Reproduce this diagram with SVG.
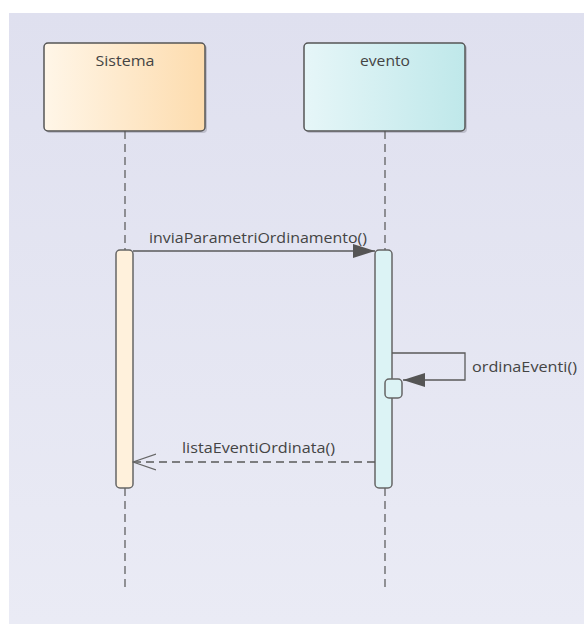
<svg xmlns="http://www.w3.org/2000/svg" width="584" height="624" viewBox="0 0 584 624">
<defs>
<linearGradient id="bg" x1="0" y1="0" x2="0" y2="1"><stop offset="0" stop-color="#dfe0ef"/><stop offset="1" stop-color="#eaebf5"/></linearGradient>
<linearGradient id="gS" x1="0" y1="0" x2="1" y2="0"><stop offset="0" stop-color="#fff6e8"/><stop offset="1" stop-color="#fddcae"/></linearGradient>
<linearGradient id="gE" x1="0" y1="0" x2="1" y2="0"><stop offset="0" stop-color="#e6f6f8"/><stop offset="1" stop-color="#bfe8ea"/></linearGradient>
<marker id="fill" markerWidth="22" markerHeight="14" refX="22" refY="7" orient="auto" markerUnits="userSpaceOnUse"><path d="M0,0 L22,7 L0,14 Z" fill="#555"/></marker>
<marker id="open" markerWidth="24" markerHeight="18" refX="23" refY="9" orient="auto" markerUnits="userSpaceOnUse"><path d="M0,1 L23,9 L0,17" fill="none" stroke="#666" stroke-width="1.2"/></marker>
</defs>
<style>
.box{stroke:#555;stroke-width:1.5}
.shadow{fill:#9a9aa8;opacity:0.5}
.title{font-family:"Open Sans","Noto Sans",sans-serif;font-size:15px;fill:#444;text-anchor:middle}
.lbl{font-family:"Open Sans","Noto Sans",sans-serif;font-size:15px;fill:#444}
.life{stroke:#555;stroke-width:1.2;stroke-dasharray:8,5;fill:none}
.act{stroke:#666;stroke-width:1.5}
.msg{stroke:#5a5a5a;stroke-width:1.3;fill:none}
</style>
<rect x="0" y="0" width="584" height="624" fill="#fff"/>
<rect x="9" y="13" width="575" height="611" fill="url(#bg)"/>
<g id="Sistema">
<rect class="shadow" x="46" y="45" width="161" height="88" rx="4"/>
<rect class="box" x="44" y="43" width="161" height="88" rx="4" fill="url(#gS)"/>
<text class="title" x="125" y="66" textLength="59" lengthAdjust="spacingAndGlyphs">Sistema</text>
<line class="life" x1="125" y1="131" x2="125" y2="250"/>
<line class="life" x1="125" y1="488" x2="125" y2="592"/>
<rect class="act" x="116" y="250" width="17" height="238" rx="4" fill="#fff1dc"/>
</g>
<g id="evento">
<rect class="shadow" x="306" y="45" width="161" height="88" rx="4"/>
<rect class="box" x="304" y="43" width="161" height="88" rx="4" fill="url(#gE)"/>
<text class="title" x="385" y="66" textLength="50" lengthAdjust="spacingAndGlyphs">evento</text>
<line class="life" x1="385" y1="131" x2="385" y2="250"/>
<line class="life" x1="385" y1="488" x2="385" y2="592"/>
<rect class="act" x="375" y="250" width="17" height="238" rx="4" fill="#dcf3f5"/>
<rect class="act" x="385" y="379" width="17" height="19" rx="4" fill="#dcf3f5"/>
</g>
<g id="connectors">
<line class="msg" x1="133" y1="251" x2="375" y2="251" marker-end="url(#fill)"/>
<text class="lbl" x="149" y="243" textLength="218" lengthAdjust="spacingAndGlyphs">inviaParametriOrdinamento()</text>
<polyline class="msg" points="392,353 465,353 465,380 403,380" marker-end="url(#fill)"/>
<text class="lbl" x="472" y="372" textLength="105" lengthAdjust="spacingAndGlyphs">ordinaEventi()</text>
<line class="msg" x1="375" y1="462" x2="133" y2="462" stroke-dasharray="8,5" marker-end="url(#open)"/>
<text class="lbl" x="182" y="453" textLength="153" lengthAdjust="spacingAndGlyphs">listaEventiOrdinata()</text>
</g>
</svg>
